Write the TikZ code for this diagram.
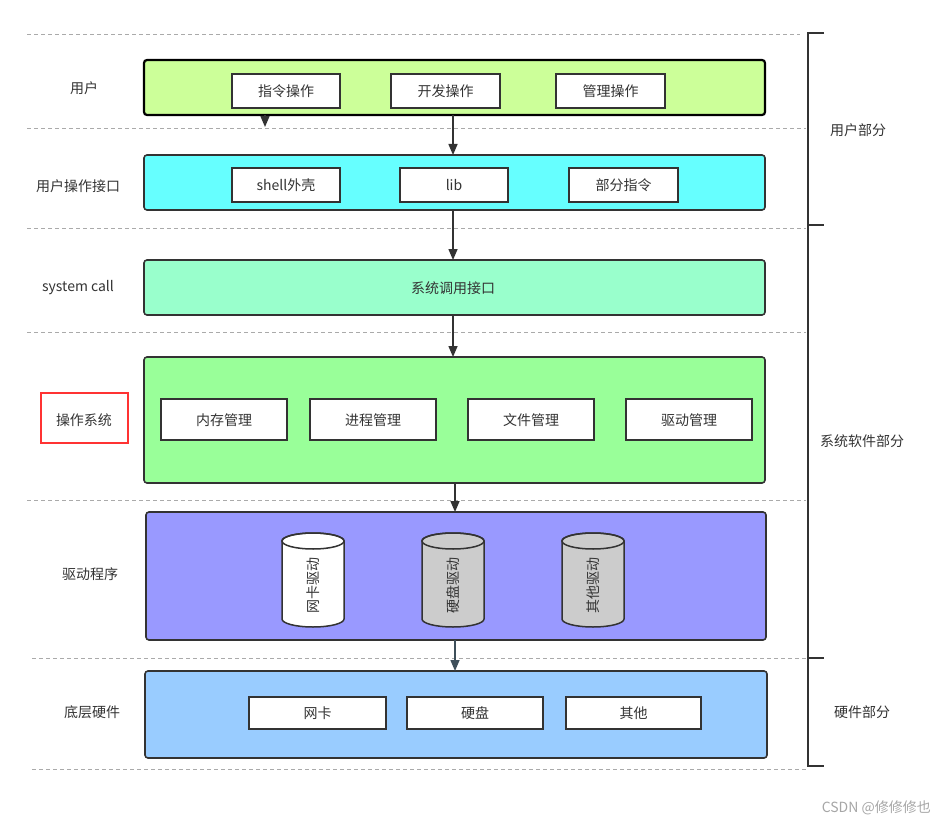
\documentclass[tikz,border=0pt]{standalone}
\usepackage{fontspec}
\setmainfont{Noto Sans CJK SC}
\usetikzlibrary{arrows.meta}
\definecolor{txt}{HTML}{333333}
\definecolor{dashc}{HTML}{AAAAAA}
\definecolor{edge}{HTML}{333333}
\definecolor{cA}{HTML}{CCFF99}
\definecolor{cB}{HTML}{66FFFF}
\definecolor{cC}{HTML}{99FFCC}
\definecolor{cD}{HTML}{99FF99}
\definecolor{cE}{HTML}{9999FF}
\definecolor{cF}{HTML}{99CCFF}
\definecolor{cyl}{HTML}{CCCCCC}
\definecolor{redb}{HTML}{FF3333}
\definecolor{arr6}{HTML}{3E4F5A}
\tikzset{
  every node/.style={font=\fontsize{14}{16}\selectfont, text=txt, inner sep=0pt},
  sep/.style={dashc, line width=1pt, dash pattern=on 4pt off 3pt},
  layer/.style={draw=edge, line width=1.6pt, rounded corners=3pt},
  item/.style={draw=edge, line width=1.6pt, fill=white},
  conn/.style={edge, line width=1.5pt, -{Triangle[length=11pt,width=9pt]}},
  brk/.style={edge, line width=1.5pt},
  side/.style={anchor=center},
}
\newcommand{\itembox}[5]{\draw[item] (#2,#3) rectangle (#4,#5); \node (#1) at ({(#2+#4)/2},{(#3+#5)/2}) {#1};}
\begin{document}
\begin{tikzpicture}[x=1pt,y=-1pt]
\useasboundingbox (0,0) rectangle (935,824);
% separators
\draw[sep] (27,35) -- (800,35);
\draw[sep] (27,129) -- (806,129);
\draw[sep] (27,228) -- (806,228);
\draw[sep] (27,332) -- (806,332);
\draw[sep] (27,500) -- (806,500);
\draw[sep] (32,658) -- (806,658);
\draw[sep] (32,769) -- (806,769);
% right bracket
\draw[brk] (824,33) -- (808,33) -- (808,766) -- (824,766);
\draw[brk] (808,225) -- (824,225);
\draw[brk] (808,658) -- (824,658);
\node (up) at (858,130) {用户部分};
\node (sp) at (862,441) {系统软件部分};
\node (hp) at (862,712) {硬件部分};
% left labels
\node (l1) at (84,88) {用户};
\node (l2) at (78,186) {用户操作接口};
\node (l3) at (78,288) {system call};
\node (l4) at (84,420) {操作系统};
\draw[redb, line width=2pt] (41,393) rectangle (128,443);
\node (l5) at (90,574) {驱动程序};
\node (l6) at (92,712) {底层硬件};
% layer 1
\draw[layer, fill=cA, line width=2.2pt, draw=black] (144,60) rectangle (765,115);
\coordinate (L1b) at (453,115);
\coordinate (L1s) at (265,115);
\draw[item] (232,74) rectangle (340,108); \node (a1) at (286,91) {指令操作};
\draw[item] (391,74) rectangle (500,108); \node (a2) at (445.5,91) {开发操作};
\draw[item] (556,74) rectangle (665,108); \node (a3) at (610.5,91) {管理操作};
% layer 2
\draw[layer, fill=cB] (144,155) rectangle (765,210);
\coordinate (L2t) at (453,155);
\coordinate (L2b) at (453,210);
\draw[item] (232,168) rectangle (340,202); \node (b1) at (286,185) {shell外壳};
\draw[item] (400,168) rectangle (508,202); \node (b2) at (454,185) {lib};
\draw[item] (569,168) rectangle (678,202); \node (b3) at (623.5,185) {部分指令};
% layer 3
\draw[layer, fill=cC] (144,260) rectangle (765,315);
\node (c1) at (453,288) {系统调用接口};
\coordinate (L3t) at (453,260);
\coordinate (L3b) at (453,315);
% layer 4
\draw[layer, fill=cD] (144,357) rectangle (765,483);
\coordinate (L4t) at (453,357);
\coordinate (L4b) at (455,483);
\draw[item] (161,399) rectangle (287,440); \node (d1) at (224,420) {内存管理};
\draw[item] (310,399) rectangle (436,440); \node (d2) at (373,420) {进程管理};
\draw[item] (468,399) rectangle (594,440); \node (d3) at (531,420) {文件管理};
\draw[item] (626,399) rectangle (752,440); \node (d4) at (689,420) {驱动管理};
% layer 5
\draw[layer, fill=cE] (146,512) rectangle (766,640);
\coordinate (L5t) at (455,512);
\coordinate (L5b) at (455,640);
% cylinders
\foreach \cx/\fc/\nm/\lab in {313/white/e1/网卡驱动, 453/cyl/e2/硬盘驱动, 593/cyl/e3/其他驱动}{
  \filldraw[fill=\fc, draw=edge, line width=1.5pt]
    (\cx-31,541) -- (\cx-31,619) arc[start angle=180, end angle=360, x radius=31pt, y radius=8pt]
    -- (\cx+31,541) arc[start angle=0, end angle=180, x radius=31pt, y radius=8pt] -- cycle;
  \draw[edge, line width=1.5pt] (\cx,541) ellipse [x radius=31pt, y radius=8pt];
  \node[rotate=90] (\nm) at (\cx,585) {\lab};
}
% layer 6
\draw[layer, fill=cF] (145,671) rectangle (767,758);
\coordinate (L6t) at (455,671);
\draw[item] (249,697) rectangle (386,729); \node (f1) at (317.5,713) {网卡};
\draw[item] (407,697) rectangle (543,729); \node (f2) at (475,713) {硬盘};
\draw[item] (566,697) rectangle (701,729); \node (f3) at (633.5,713) {其他};
% connectors
\coordinate (S1) at (265,127);
\draw[conn] (L1s) -- (S1);
\draw[conn] (L1b) -- (L2t);
\draw[conn] (L2b) -- (L3t);
\draw[conn] (L3b) -- (L4t);
\draw[conn] (L4b) -- (L5t);
\draw[conn, arr6] (L5b) -- (L6t);
% credit
\node[text=gray!70, anchor=east] (cr) at (931,808) {CSDN @修修修也};
\end{tikzpicture}
\end{document}
